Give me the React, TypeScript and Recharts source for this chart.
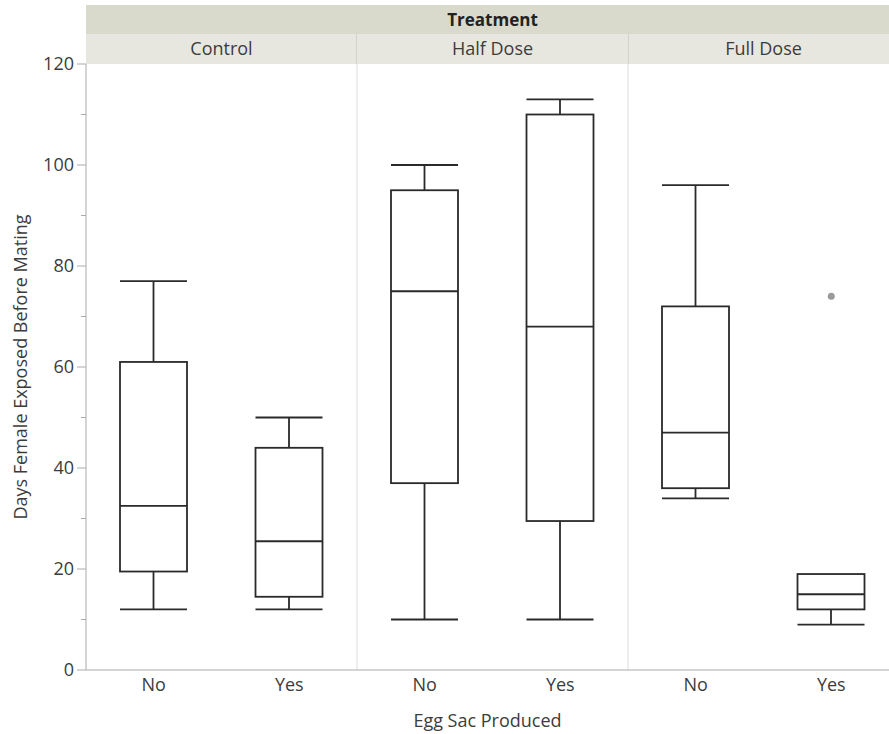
import React from 'react';
import { ComposedChart, Bar, Scatter, XAxis, YAxis, ReferenceLine, Label } from 'recharts';

const categories = ['Control|No', 'Control|Yes', 'Half Dose|No', 'Half Dose|Yes', 'Full Dose|No', 'Full Dose|Yes'];
const tickLabels = ['No', 'Yes', 'No', 'Yes', 'No', 'Yes'];
const panels = ['Control', 'Half Dose', 'Full Dose'];
const panelTicks = [1, 3, 5];
const panelDividers = [2, 4];
const whiskerLow = [12, 12, 10, 10, 34, 9];
const q1 = [19.5, 14.5, 37, 29.5, 36, 12];
const median = [32.5, 25.5, 75, 68, 47, 15];
const q3 = [61, 44, 95, 110, 72, 19];
const whiskerHigh = [77, 50, 100, 113, 96, 19];
const outliers = [{ cat: 'Full Dose|Yes', pos: 5.5, value: 74 }];
const yTicks = [0, 10, 20, 30, 40, 50, 60, 70, 80, 90, 100, 110, 120];

const data = categories.map((cat, i) => ({
  cat,
  pos: i + 0.5,
  range: [whiskerLow[i], whiskerHigh[i]],
  low: whiskerLow[i],
  q1: q1[i],
  med: median[i],
  q3: q3[i],
  high: whiskerHigh[i],
}));

const FONT = '"Open Sans", "Noto Sans", sans-serif';
const STROKE = '#2a2a2a';
const SW = 1.8;
const TEXT = '#3c3c3c';

const BoxShape = (props: any) => {
  const { x, y, width, height, payload } = props;
  if (x == null || y == null) return null;
  const top = Math.min(y, y + height);
  const h = Math.abs(height);
  const { low, high } = payload;
  const ppu = h / (high - low);
  const yOf = (v: number) => top + (high - v) * ppu;
  const cx = x + width / 2;
  const x0 = x;
  const x1 = x + width;
  return (
    <g fill="none" stroke={STROKE} strokeWidth={SW}>
      {payload.high > payload.q3 && (
        <>
          <line x1={cx} x2={cx} y1={yOf(payload.high)} y2={yOf(payload.q3)} />
          <line x1={x0} x2={x1} y1={yOf(payload.high)} y2={yOf(payload.high)} />
        </>
      )}
      {payload.low < payload.q1 && (
        <>
          <line x1={cx} x2={cx} y1={yOf(payload.q1)} y2={yOf(payload.low)} />
          <line x1={x0} x2={x1} y1={yOf(payload.low)} y2={yOf(payload.low)} />
        </>
      )}
      <rect x={x0} y={yOf(payload.q3)} width={width} height={yOf(payload.q1) - yOf(payload.q3)} />
      <line x1={x0} x2={x1} y1={yOf(payload.med)} y2={yOf(payload.med)} />
    </g>
  );
};

const TICK_SIZE = 9;
const TICK_MARGIN = 3;

const YTick = (props: any) => {
  const { x, y, payload } = props;
  const major = payload.value % 20 === 0;
  const axisX = x + TICK_SIZE + TICK_MARGIN;
  return (
    <g>
      <line x1={axisX - (major ? 9 : 5)} x2={axisX} y1={y} y2={y} stroke="#aaaaaa" strokeWidth={1} />
      {major && (
        <text x={x} y={y} dy="0.36em" textAnchor="end" fontSize={18} fill={TEXT} fontFamily={FONT}>
          {payload.value}
        </text>
      )}
    </g>
  );
};

const OutlierDot = (props: any) => {
  const { cx, cy } = props;
  return <circle cx={cx} cy={cy} r={3.5} fill="#9a9a9a" />;
};

export default function App() {
  return (
    <div style={{ position: 'absolute', left: 0, top: 0, width: 889, height: 734, overflow: 'hidden', background: '#fff' }}>
      <div style={{ position: 'absolute', left: 86, top: 5, width: 813, height: 29, background: '#dadacc' }} />
      <div style={{ position: 'absolute', left: 86, top: 34, width: 813, height: 30, background: '#e7e7df' }} />
      <div style={{ position: 'absolute', left: 356, top: 34, width: 1, height: 30, background: '#d2d2ca' }} />
      <div style={{ position: 'absolute', left: 628, top: 34, width: 1, height: 30, background: '#d2d2ca' }} />
      <div
        style={{
          position: 'absolute', left: 86, top: 5, width: 813, height: 29, lineHeight: '29px',
          textAlign: 'center', fontFamily: FONT, fontWeight: 700, fontSize: 17, color: '#222',
        }}
      >
        Treatment
      </div>
      <div style={{ position: 'absolute', left: 0, top: 0 }}>
        <ComposedChart
          width={899}
          height={734}
          data={data}
          margin={{ top: 34, right: 0, bottom: 0, left: 0 }}
          style={{ fontFamily: FONT }}
        >
          <XAxis
            dataKey="cat"
            type="category"
            allowDuplicatedCategory={false}
            height={64}
            tickLine={false}
            axisLine={{ stroke: '#aaaaaa' }}
            interval={0}
            tickFormatter={(v: string) => tickLabels[categories.indexOf(v)]}
            tick={{ fontSize: 18, fill: TEXT, fontFamily: FONT }}
          >
            <Label
              content={(p: any) => {
                const vb = p.viewBox || {};
                return (
                  <text
                    x={vb.x + vb.width / 2 - 5}
                    y={727}
                    textAnchor="middle"
                    fontSize={18}
                    fill={TEXT}
                    fontFamily={FONT}
                  >
                    Egg Sac Produced
                  </text>
                );
              }}
            />
          </XAxis>
          <XAxis
            xAxisId="panel"
            dataKey="pos"
            orientation="top"
            type="number"
            domain={[0, 6]}
            allowDataOverflow={true}
            ticks={panelTicks}
            height={30}
            axisLine={false}
            tickLine={false}
            tickSize={6}
            tickMargin={3}
            interval={0}
            tickFormatter={(v: number) => panels[Math.round((v - 1) / 2)]}
            tick={{ fontSize: 18, fill: TEXT, fontFamily: FONT }}
          />
          <YAxis
            type="number"
            domain={[0, 120]}
            ticks={yTicks}
            interval={0}
            width={86}
            tickLine={false}
            tickSize={TICK_SIZE}
            tickMargin={TICK_MARGIN}
            axisLine={{ stroke: '#aaaaaa' }}
            tick={<YTick />}
          >
            <Label
              content={(p: any) => {
                const vb = p.viewBox || {};
                const cy = vb.y + vb.height / 2;
                return (
                  <text
                    x={27}
                    y={cy}
                    transform={`rotate(-90 27 ${cy})`}
                    textAnchor="middle"
                    fontSize={18}
                    fill={TEXT}
                    fontFamily={FONT}
                  >
                    Days Female Exposed Before Mating
                  </text>
                );
              }}
            />
          </YAxis>
          {panelDividers.map((d) => (
            <ReferenceLine key={d} xAxisId="panel" x={d} stroke="#dcdcdc" strokeWidth={1} />
          ))}
          <Bar dataKey="range" barSize={67} shape={<BoxShape />} isAnimationActive={false} />
          <Scatter data={outliers} dataKey="value" shape={<OutlierDot />} isAnimationActive={false} />
        </ComposedChart>
      </div>
    </div>
  );
}
